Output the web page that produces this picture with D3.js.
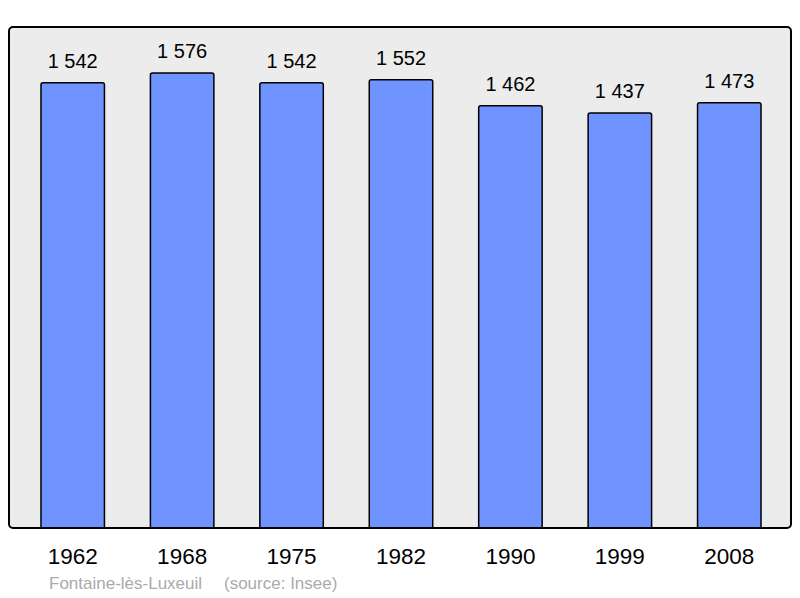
<!DOCTYPE html>
<html>
<head>
<meta charset="utf-8">
<script src="https://cdn.jsdelivr.net/npm/d3@7"></script>
<style>
  body { margin: 0; background: #fff; }
  svg { display: block; font-family: "Liberation Sans", Arial, sans-serif; }
</style>
</head>
<body>
<div id="chart"></div>
<script>
const years = ["1962", "1968", "1975", "1982", "1990", "1999", "2008"];
const population = [1542, 1576, 1542, 1552, 1462, 1437, 1473];
const townName = "Fontaine-lès-Luxeuil";
const sourceText = "(source: Insee)";

const width = 800, height = 598;
const panel = { left: 9, top: 27, right: 791, bottom: 528 };

const svg = d3.select("#chart")
  .append("svg")
  .attr("width", width)
  .attr("height", height);

// panel background
svg.append("rect")
  .attr("x", panel.left)
  .attr("y", panel.top)
  .attr("width", panel.right - panel.left)
  .attr("height", panel.bottom - panel.top)
  .attr("rx", 4)
  .style("fill", "#ececec")
  .style("stroke", "none");

const xScale = d3.scaleBand()
  .domain(years)
  .range([18, 784])
  .paddingInner(0.42)
  .paddingOuter(0.21);

const yScale = d3.scaleLinear()
  .domain([0, 1735])
  .range([panel.bottom, panel.top]);

const fr = d3.formatLocale({ decimal: ",", thousands: " ", grouping: [3], currency: ["", "€"] });
const fmt = fr.format(",d");

const data = years.map((y, i) => ({ year: y, value: population[i] }));

// bars, rounded top corners
svg.selectAll("path.bar")
  .data(data)
  .enter()
  .append("path")
  .attr("class", "bar")
  .attr("d", d => {
    const x0 = xScale(d.year), x1 = x0 + xScale.bandwidth();
    const y0 = yScale(d.value), y1 = panel.bottom, r = 2;
    return "M" + x0 + "," + y1 + "V" + (y0 + r) + "Q" + x0 + "," + y0 + " " + (x0 + r) + "," + y0 +
      "H" + (x1 - r) + "Q" + x1 + "," + y0 + " " + x1 + "," + (y0 + r) + "V" + y1;
  })
  .style("fill", "#7094ff")
  .style("stroke", "#000")
  .style("stroke-width", 1.5);

// value labels
svg.selectAll("text.value")
  .data(data)
  .enter()
  .append("text")
  .attr("class", "value")
  .attr("x", d => xScale(d.year) + xScale.bandwidth() / 2)
  .attr("y", d => yScale(d.value) - 15)
  .attr("text-anchor", "middle")
  .style("font-size", "20px")
  .style("fill", "#000")
  .text(d => fmt(d.value));

// panel border on top
svg.append("rect")
  .attr("x", panel.left)
  .attr("y", panel.top)
  .attr("width", panel.right - panel.left)
  .attr("height", panel.bottom - panel.top)
  .attr("rx", 4)
  .style("fill", "none")
  .style("stroke", "#000")
  .style("stroke-width", 2);

// x axis labels
const xAxis = d3.axisBottom(xScale).tickSize(0).tickPadding(0);
const gx = svg.append("g")
  .attr("transform", "translate(0," + panel.bottom + ")")
  .call(xAxis);
gx.select(".domain").remove();
gx.selectAll("text")
  .attr("dy", null)
  .attr("y", 36)
  .style("font-size", "22.5px")
  .style("font-family", "\"Liberation Sans\", Arial, sans-serif")
  .style("fill", "#000");

// footer
svg.append("text")
  .attr("x", 49)
  .attr("y", 589)
  .style("font-size", "17px")
  .style("fill", "#aaa")
  .text(townName);
svg.append("text")
  .attr("x", 224)
  .attr("y", 589)
  .style("font-size", "17px")
  .style("fill", "#aaa")
  .text(sourceText);
</script>
</body>
</html>
